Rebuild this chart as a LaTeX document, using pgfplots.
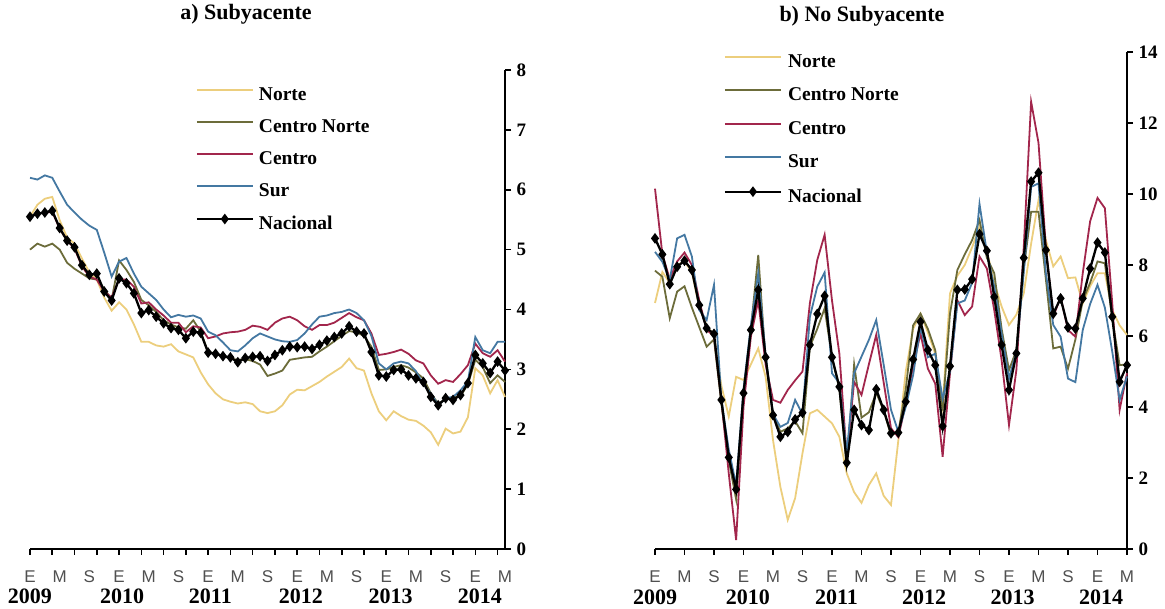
\documentclass[border=0pt]{standalone}
\usepackage{pgfplots}
\pgfplotsset{compat=1.18}
\usepackage{pgfplotstable}
\usepackage{fontspec}
\setmainfont{Liberation Serif}
\newfontfamily\arial{Liberation Sans}
\definecolor{cNorte}{RGB}{236,206,125}
\definecolor{cCNorte}{RGB}{108,108,58}
\definecolor{cCentro}{RGB}{162,38,76}
\definecolor{cSur}{RGB}{68,120,162}
\definecolor{cMes}{RGB}{80,80,80}

\pgfplotstableread{
m nac norte cnorte centro sur
0 5.55 5.55 5.0 5.55 6.2
1 5.6 5.75 5.1 5.6 6.17
2 5.62 5.85 5.05 5.62 6.24
3 5.65 5.88 5.1 5.63 6.2
4 5.36 5.49 5.0 5.35 5.97
5 5.15 5.2 4.78 5.15 5.75
6 5.04 5.1 4.68 5.02 5.62
7 4.74 4.85 4.6 4.72 5.5
8 4.58 4.62 4.52 4.55 5.4
9 4.6 4.5 4.5 4.5 5.33
10 4.3 4.2 4.35 4.3 4.95
11 4.15 3.98 4.16 4.2 4.55
12 4.52 4.12 4.82 4.5 4.8
13 4.44 4.0 4.66 4.5 4.86
14 4.27 3.75 4.46 4.38 4.6
15 3.94 3.46 4.16 4.1 4.38
16 3.99 3.46 4.07 4.12 4.27
17 3.88 3.4 3.96 4.0 4.16
18 3.77 3.38 3.82 3.9 4.0
19 3.69 3.42 3.75 3.78 3.87
20 3.66 3.3 3.7 3.78 3.91
21 3.52 3.25 3.68 3.62 3.88
22 3.63 3.2 3.82 3.72 3.9
23 3.61 2.95 3.63 3.7 3.85
24 3.28 2.75 3.29 3.52 3.63
25 3.26 2.6 3.27 3.55 3.57
26 3.22 2.5 3.22 3.6 3.45
27 3.2 2.46 3.18 3.62 3.32
28 3.12 2.43 3.16 3.63 3.3
29 3.19 2.45 3.17 3.66 3.4
30 3.21 2.42 3.14 3.73 3.52
31 3.22 2.3 3.08 3.71 3.6
32 3.14 2.27 2.89 3.66 3.55
33 3.24 2.3 2.93 3.78 3.5
34 3.32 2.4 2.98 3.85 3.47
35 3.38 2.58 3.16 3.88 3.46
36 3.37 2.66 3.18 3.82 3.49
37 3.38 2.65 3.2 3.72 3.6
38 3.34 2.72 3.21 3.66 3.75
39 3.41 2.79 3.3 3.74 3.88
40 3.48 2.88 3.38 3.74 3.9
41 3.54 2.96 3.47 3.78 3.94
42 3.6 3.04 3.56 3.86 3.96
43 3.72 3.18 3.64 3.94 4.0
44 3.63 3.02 3.62 3.87 3.94
45 3.6 2.98 3.56 3.82 3.82
46 3.29 2.6 3.38 3.6 3.56
47 2.9 2.3 2.99 3.24 3.1
48 2.88 2.15 3.0 3.26 3.0
49 2.99 2.3 3.04 3.29 3.1
50 3.0 2.22 3.07 3.33 3.13
51 2.9 2.16 3.03 3.26 3.1
52 2.85 2.14 2.95 3.15 2.97
53 2.79 2.06 2.85 3.1 2.75
54 2.54 1.95 2.6 2.9 2.6
55 2.4 1.74 2.43 2.76 2.4
56 2.52 2.01 2.5 2.82 2.52
57 2.49 1.93 2.53 2.79 2.54
58 2.57 1.96 2.55 2.92 2.65
59 2.77 2.2 2.75 3.07 2.8
60 3.24 3.02 3.16 3.43 3.54
61 3.1 2.9 3.04 3.27 3.32
62 2.94 2.6 2.77 3.21 3.27
63 3.13 2.82 2.9 3.32 3.46
64 2.98 2.54 2.79 3.13 3.46
}\leftdata

\pgfplotstableread{
m nac centro sur cnorte norte
0 8.75 10.15 8.37 7.84 6.93
1 8.3 8.3 8.09 7.67 7.8
2 7.46 7.6 7.58 6.5 7.5
3 7.95 8.1 8.75 7.25 8.0
4 8.12 8.35 8.85 7.4 8.1
5 7.86 8.0 8.24 6.8 7.8
6 6.87 7.0 6.73 6.25 6.8
7 6.22 6.17 6.45 5.7 6.3
8 6.06 6.0 7.44 5.9 6.0
9 4.2 4.2 4.2 4.1 4.6
10 2.58 2.13 2.8 2.5 3.73
11 1.68 0.25 1.8 1.4 4.85
12 4.39 4.0 4.5 4.4 4.76
13 6.17 5.98 6.3 6.2 5.2
14 7.3 7.0 7.77 8.28 5.65
15 5.4 5.2 5.45 5.3 4.85
16 3.77 4.2 3.8 3.8 3.07
17 3.16 4.12 3.44 3.3 1.75
18 3.3 4.48 3.55 3.4 0.82
19 3.65 4.75 4.2 3.6 1.43
20 3.84 5.0 3.8 3.26 2.7
21 5.75 6.92 6.54 5.7 3.82
22 6.62 8.14 7.39 6.2 3.92
23 7.13 8.85 7.79 6.78 3.73
24 5.4 7.0 4.95 5.4 3.54
25 4.57 5.5 4.67 4.5 3.16
26 2.43 2.6 2.7 2.3 2.13
27 3.92 4.71 4.95 5.2 1.6
28 3.49 4.34 5.42 3.7 1.3
29 3.35 5.2 5.89 3.85 1.8
30 4.5 6.03 6.45 4.4 2.13
31 3.92 4.7 5.2 3.9 1.5
32 3.26 3.4 3.92 3.2 1.24
33 3.28 3.15 3.3 3.3 3.07
34 4.15 4.1 4.0 4.5 5.0
35 5.34 5.15 4.9 6.3 6.2
36 6.4 6.07 6.26 6.63 6.63
37 5.61 5.08 5.4 6.2 6.1
38 5.18 4.66 5.5 5.6 5.5
39 3.46 2.6 4.24 3.9 4.0
40 5.15 4.95 5.0 6.63 7.2
41 7.3 7.0 6.92 7.86 7.7
42 7.31 6.59 7.0 8.3 8.0
43 7.6 6.83 7.5 8.7 8.5
44 8.87 8.24 9.72 9.27 9.08
45 8.4 7.9 8.35 8.2 8.4
46 7.1 6.73 7.39 7.77 7.5
47 5.75 5.32 6.07 6.2 6.83
48 4.48 3.49 4.8 5.04 6.31
49 5.51 5.04 5.55 5.6 6.6
50 8.2 8.5 7.8 7.9 7.2
51 10.35 12.6 10.2 9.5 8.6
52 10.6 11.44 10.3 9.5 9.83
53 8.42 8.5 7.77 7.6 8.7
54 6.63 6.54 6.31 5.65 7.96
55 7.06 7.1 5.98 5.7 8.24
56 6.24 6.17 4.8 5.08 7.63
57 6.21 5.98 4.7 5.9 7.65
58 7.06 7.77 6.17 7.0 6.92
59 7.9 9.23 6.9 7.5 7.4
60 8.63 9.89 7.44 8.1 7.77
61 8.35 9.6 6.8 8.05 7.77
62 6.54 6.92 5.56 6.5 6.73
63 4.71 3.92 4.2 5.18 6.3
64 5.18 4.95 4.86 5.2 6.03
}\rightdata

\pgfplotsset{
  panel/.style={
    scale only axis, anchor=south west, clip=false,
    xmin=0, xmax=64, ymin=0,
    axis x line*=bottom, axis y line*=right,
    axis line style={line width=2.4pt, black},
    xticklabels={},
    tick align=outside, major tick length=6pt,
    tick style={line width=1.6pt, black},
    yticklabel style={font=\fontsize{19}{20}\selectfont\bfseries, xshift=2pt},
    legend cell align=left,
    legend image code/.code={\draw[##1, mark repeat=2, mark phase=2] plot coordinates {(0pt,6pt) (28pt,6pt) (56pt,6pt)};},
  },
  reg/.style={no marks, line width=1.8pt},
  nac/.style={black, line width=2.3pt, mark=diamond*, mark size=3.5pt, mark options={solid, fill=black}},
}
\tikzset{
  mes/.style={font=\arial\fontsize{17}{18}\selectfont, text=cMes},
  anio/.style={font=\fontsize{22}{24}\selectfont\bfseries},
}

\begin{document}
\begin{tikzpicture}
\useasboundingbox (0pt,0pt) rectangle (1165pt,608pt);
\node[font=\fontsize{22}{24}\selectfont\bfseries] at (246pt,594pt) {a) Subyacente};
\node[font=\fontsize{22}{24}\selectfont\bfseries] at (862pt,592pt) {b) No Subyacente};

\begin{axis}[panel, at={(30pt,59pt)}, width=475pt, height=479pt, ymax=8,
  xtick={0,3,...,63}, ytick={0,1,2,3,4,5,6,7,8},
  yticklabels={\textbf{0},\textbf{1},\textbf{2},\textbf{3},\textbf{4},\textbf{5},\textbf{6},\textbf{7},\textbf{8}},
  legend style={at={(0.342,0.968)}, anchor=north west, draw=none, fill=none,
    font=\fontsize{19.5}{21}\selectfont\bfseries, row sep=15pt,
    nodes={inner sep=0pt, text height=13pt, text depth=4pt}},
  legend style={/tikz/every odd column/.append style={column sep=5pt}}]
\addplot[reg, cNorte] table[x=m, y=norte] {\leftdata};
\addlegendentry{Norte}
\addplot[reg, cCNorte] table[x=m, y=cnorte] {\leftdata};
\addlegendentry{Centro Norte}
\addplot[reg, cCentro] table[x=m, y=centro] {\leftdata};
\addlegendentry{Centro}
\addplot[reg, cSur] table[x=m, y=sur] {\leftdata};
\addlegendentry{Sur}
\addplot[nac] table[x=m, y=nac] {\leftdata};
\addlegendentry{Nacional}
\node[mes] at (axis cs:0,0) [yshift=-28pt] {E};
\node[mes] at (axis cs:4,0) [yshift=-28pt] {M};
\node[mes] at (axis cs:8,0) [yshift=-28pt] {S};
\node[mes] at (axis cs:12,0) [yshift=-28pt] {E};
\node[mes] at (axis cs:16,0) [yshift=-28pt] {M};
\node[mes] at (axis cs:20,0) [yshift=-28pt] {S};
\node[mes] at (axis cs:24,0) [yshift=-28pt] {E};
\node[mes] at (axis cs:28,0) [yshift=-28pt] {M};
\node[mes] at (axis cs:32,0) [yshift=-28pt] {S};
\node[mes] at (axis cs:36,0) [yshift=-28pt] {E};
\node[mes] at (axis cs:40,0) [yshift=-28pt] {M};
\node[mes] at (axis cs:44,0) [yshift=-28pt] {S};
\node[mes] at (axis cs:48,0) [yshift=-28pt] {E};
\node[mes] at (axis cs:52,0) [yshift=-28pt] {M};
\node[mes] at (axis cs:56,0) [yshift=-28pt] {S};
\node[mes] at (axis cs:60,0) [yshift=-28pt] {E};
\node[mes] at (axis cs:64,0) [yshift=-28pt] {M};
\node[anio] at (axis cs:0,0) [yshift=-47pt] {2009};
\node[anio] at (axis cs:12.4,0) [yshift=-47pt] {2010};
\node[anio] at (axis cs:24.3,0) [yshift=-47pt] {2011};
\node[anio] at (axis cs:36.5,0) [yshift=-47pt] {2012};
\node[anio] at (axis cs:48.6,0) [yshift=-47pt] {2013};
\node[anio] at (axis cs:60.6,0) [yshift=-47pt] {2014};
\end{axis}

\begin{axis}[panel, at={(655pt,59pt)}, width=472pt, height=497pt, ymax=14,
  xtick={0,4,...,64}, ytick={0,2,4,6,8,10,12,14},
  yticklabels={\textbf{0},\textbf{2},\textbf{4},\textbf{6},\textbf{8},\textbf{10},\textbf{12},\textbf{14}},
  legend style={at={(0.139,1.0)}, anchor=north west, draw=none, fill=none,
    font=\fontsize{19.5}{21}\selectfont\bfseries, row sep=16.5pt,
    nodes={inner sep=0pt, text height=13pt, text depth=4pt}},
  legend style={/tikz/every odd column/.append style={column sep=6pt}}]
\addplot[reg, cNorte] table[x=m, y=norte] {\rightdata};
\addlegendentry{Norte}
\addplot[reg, cCNorte] table[x=m, y=cnorte] {\rightdata};
\addlegendentry{Centro Norte}
\addplot[reg, cCentro] table[x=m, y=centro] {\rightdata};
\addlegendentry{Centro}
\addplot[reg, cSur] table[x=m, y=sur] {\rightdata};
\addlegendentry{Sur}
\addplot[nac] table[x=m, y=nac] {\rightdata};
\addlegendentry{Nacional}
\node[mes] at (axis cs:0,0) [yshift=-28pt] {E};
\node[mes] at (axis cs:4,0) [yshift=-28pt] {M};
\node[mes] at (axis cs:8,0) [yshift=-28pt] {S};
\node[mes] at (axis cs:12,0) [yshift=-28pt] {E};
\node[mes] at (axis cs:16,0) [yshift=-28pt] {M};
\node[mes] at (axis cs:20,0) [yshift=-28pt] {S};
\node[mes] at (axis cs:24,0) [yshift=-28pt] {E};
\node[mes] at (axis cs:28,0) [yshift=-28pt] {M};
\node[mes] at (axis cs:32,0) [yshift=-28pt] {S};
\node[mes] at (axis cs:36,0) [yshift=-28pt] {E};
\node[mes] at (axis cs:40,0) [yshift=-28pt] {M};
\node[mes] at (axis cs:44,0) [yshift=-28pt] {S};
\node[mes] at (axis cs:48,0) [yshift=-28pt] {E};
\node[mes] at (axis cs:52,0) [yshift=-28pt] {M};
\node[mes] at (axis cs:56,0) [yshift=-28pt] {S};
\node[mes] at (axis cs:60,0) [yshift=-28pt] {E};
\node[mes] at (axis cs:64,0) [yshift=-28pt] {M};
\node[anio] at (axis cs:0,0) [yshift=-48pt] {2009};
\node[anio] at (axis cs:12.6,0) [yshift=-48pt] {2010};
\node[anio] at (axis cs:24.6,0) [yshift=-48pt] {2011};
\node[anio] at (axis cs:36.5,0) [yshift=-48pt] {2012};
\node[anio] at (axis cs:48.5,0) [yshift=-48pt] {2013};
\node[anio] at (axis cs:60.5,0) [yshift=-48pt] {2014};
\end{axis}
\end{tikzpicture}
\end{document}
